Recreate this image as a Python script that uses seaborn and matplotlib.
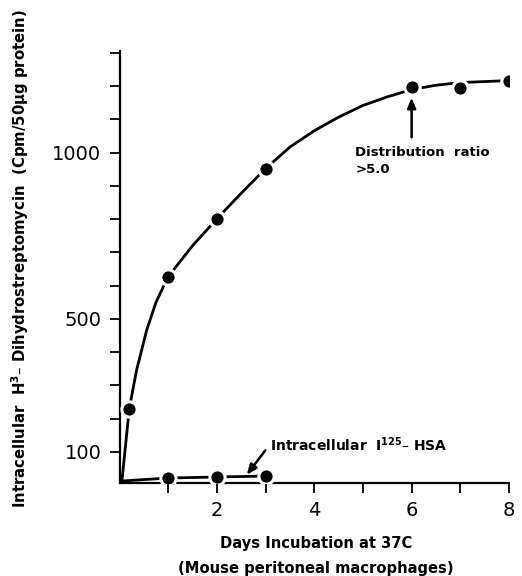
import numpy as np
import pandas as pd
import matplotlib
matplotlib.use('Agg')
import matplotlib.pyplot as plt
import seaborn as sns

# ---- data ----
# H3-dihydrostreptomycin, measured points
strep_days = [0.2, 1, 2, 3, 6, 7, 8]
strep_cpm = [229, 627, 801, 952, 1199, 1196, 1217]

# hand drawn curve through them
strep_curve_days = [0.05, 0.2, 0.35, 0.56, 0.75, 1, 1.5, 2, 2.5, 3, 3.5, 4, 4.5, 5, 5.5, 6, 6.5, 7, 8]
strep_curve_cpm = [12, 229, 345, 467, 550, 627, 720, 801, 878, 952, 1017, 1066, 1107, 1142, 1168,
                   1190, 1203, 1211, 1217]

# I125 HSA
hsa_days = [1, 2, 3]
hsa_cpm = [21, 24, 27]
hsa_curve_days = [0.05, 1, 2, 3]
hsa_curve_cpm = [12, 21, 24, 27]

y_ticks = list(range(100, 1301, 100))
y_ticklabels = ['100' if t == 100 else '500' if t == 500 else '1000' if t == 1000 else '' for t in y_ticks]
x_ticks = [1, 2, 3, 4, 5, 6, 7, 8]
x_ticklabels = ['', '2', '', '4', '', '6', '', '8']

# =============================================

sns.set_style('ticks')
plt.rcParams['font.family'] = ['DejaVu Sans']
plt.rcParams['text.color'] = 'black'
plt.rcParams['axes.labelcolor'] = 'black'
plt.rcParams['xtick.color'] = 'black'
plt.rcParams['ytick.color'] = 'black'

fig = plt.figure(figsize=(5.22, 5.76), dpi=100)
ax = fig.add_axes([119.5 / 522, 1 - 483 / 576, (509 - 119.5) / 522, (483 - 51) / 576])

curve_up = pd.DataFrame({'day': strep_curve_days, 'cpm': strep_curve_cpm})
curve_lo = pd.DataFrame({'day': hsa_curve_days, 'cpm': hsa_curve_cpm})
sns.lineplot(x='day', y='cpm', data=curve_up, ax=ax, color='black', linewidth=2.0,
             sort=False, estimator=None)
sns.lineplot(x='day', y='cpm', data=curve_lo, ax=ax, color='black', linewidth=2.0,
             sort=False, estimator=None)

# dots with a white ring so the line seems to stop short of them
ax.plot(strep_days, strep_cpm, 'o', color='black', markersize=11,
        markeredgecolor='white', markeredgewidth=2.2, zorder=5)
ax.plot(hsa_days, hsa_cpm, 'o', color='black', markersize=11,
        markeredgecolor='white', markeredgewidth=2.2, zorder=5)

ax.set_xlim(0, 8)
ax.set_ylim(6, 1306)
ax.set_xticks(x_ticks)
ax.set_xticklabels(x_ticklabels, fontsize=14)
ax.set_yticks(y_ticks)
ax.set_yticklabels(y_ticklabels, fontsize=14)
ax.tick_params(axis='both', direction='out', length=7, width=1.3, color='black', pad=6)

sns.despine(ax=ax)
for s in ['left', 'bottom']:
    ax.spines[s].set_linewidth(1.6)
    ax.spines[s].set_color('black')

ax.set_xlabel('Days Incubation at 37C\n(Mouse peritoneal macrophages)', fontsize=10.6,
              fontweight='bold', linespacing=1.85)
ax.xaxis.set_label_coords(0.505, -0.122)
ax.set_ylabel('Intracellular  H$^{\\mathbf{3}}$\u2013 Dihydrostreptomycin  (Cpm/50\u03bcg protein)',
              fontsize=10.7, fontweight='bold')
ax.yaxis.set_label_coords(-0.228, 0.52)

# annotations
ax.annotate('', xy=(6, 1174), xytext=(6, 1038),
            arrowprops=dict(arrowstyle='-|>,head_width=0.25,head_length=0.6', color='black', lw=1.8))
ax.text(4.84, 1002, 'Distribution  ratio', fontsize=9.5, fontweight='bold', ha='left', va='center')
ax.text(4.84, 948, '>5.0', fontsize=9.5, fontweight='bold', ha='left', va='center')

ax.annotate('', xy=(2.58, 24), xytext=(3.03, 111),
            arrowprops=dict(arrowstyle='-|>,head_width=0.25,head_length=0.6', color='black', lw=1.8))
ax.text(3.1, 120, 'Intracellular  I$^{\\mathbf{125}}$\u2013 HSA', fontsize=10, fontweight='bold',
        ha='left', va='center')

plt.savefig('out.png', dpi=100)
